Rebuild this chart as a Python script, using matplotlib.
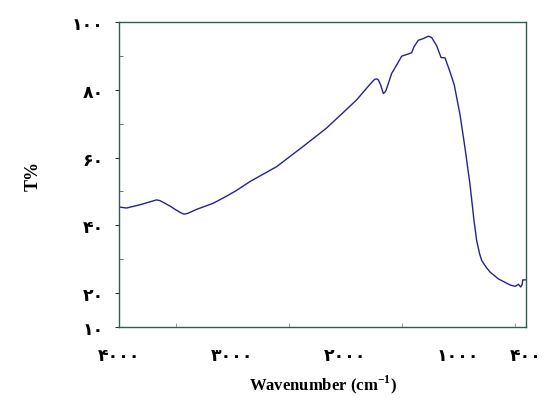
import matplotlib.pyplot as plt
from matplotlib.ticker import FixedLocator

# spectrum (wavenumber, transmittance)
wavenumber = [4000, 3935, 3800, 3700, 3670, 3640, 3600, 3551, 3500, 3460, 3427, 3395,
              3315, 3168, 3050, 2961, 2843, 2607, 2371, 2165, 2017, 1899, 1781,
              1750, 1737, 1720, 1707, 1686, 1663, 1650, 1639, 1589, 1545, 1500,
              1456, 1412, 1391, 1353, 1309, 1264, 1235, 1191, 1152, 1117, 1073,
              1035, 984, 940, 896, 860, 837, 810, 792, 750, 718, 645, 541, 497,
              468, 455, 447, 435, 429, 403]
transmit = [45.4, 45.1, 46.2, 47.2, 47.5, 47.3, 46.6, 45.7, 44.6, 43.8, 43.3, 43.5,
            44.7, 46.5, 48.6, 50.3, 52.9, 57.3, 63.3, 68.7, 73.3, 77.0, 81.6,
            82.7, 83.1, 83.2, 82.9, 81.4, 78.9, 79.2, 79.8, 84.8, 87.3, 89.9,
            90.4, 90.9, 92.7, 94.6, 95.1, 95.8, 95.4, 93.0, 89.5, 89.4, 85.3,
            81.4, 72.6, 62.8, 52.1, 41.3, 35.5, 31.5, 29.6, 27.5, 26.2, 24.2,
            22.4, 22.0, 22.6, 22.1, 21.8, 22.5, 23.9, 23.9]

x_ticks = [4000, 3000, 2000, 1000, 400]
x_labels = ['۴۰۰۰', '۳۰۰۰', '۲۰۰۰', '۱۰۰۰', '۴۰۰']
y_ticks = [100, 80, 60, 40, 20, 10]
y_labels = ['۱۰۰', '۸۰', '۶۰', '۴۰', '۲۰', '۱۰']

frame = '#2e5e4e'

plt.rcParams['mathtext.fontset'] = 'custom'
plt.rcParams['mathtext.rm'] = 'Liberation Serif'
plt.rcParams['mathtext.bf'] = 'Liberation Serif:bold'

fig = plt.figure(figsize=(5.44, 4.10), dpi=100)
ax = fig.add_axes([0.219, 0.2, 0.748, 0.744])

ax.plot(wavenumber, transmit, color='#23238c', linewidth=1.0)

ax.set_xlim(4000, 400)
ax.set_ylim(10, 100)

ax.set_xticks(x_ticks)
ax.set_xticklabels(x_labels, fontsize=12.5, fontweight='bold', family='DejaVu Sans')
ax.set_yticks(y_ticks)
ax.set_yticklabels(y_labels, fontsize=12.5, fontweight='bold', family='DejaVu Sans')
ax.xaxis.set_minor_locator(FixedLocator([3500, 3000, 2500, 2000, 1500, 1000, 500]))
ax.yaxis.set_minor_locator(FixedLocator([30, 50, 70, 90]))

ax.tick_params(axis='x', which='major', direction='in', length=0, pad=14)
ax.tick_params(axis='x', which='minor', direction='in', length=3, color='#888888')
ax.tick_params(axis='y', which='major', direction='out', length=3, pad=8, color='#333333')
ax.tick_params(axis='y', which='minor', direction='in', length=3, color='#555555')

for s in ax.spines.values():
    s.set_color(frame)
    s.set_linewidth(1.0)

ax.set_xlabel(r'Wavenumber (cm$^{\mathbf{-1}}$)', fontsize=12, fontweight='bold',
              family='Liberation Serif', labelpad=6)
ax.set_ylabel('T%', fontsize=13, fontweight='bold', family='Liberation Serif', labelpad=22)

fig.savefig('out.png', dpi=100)
